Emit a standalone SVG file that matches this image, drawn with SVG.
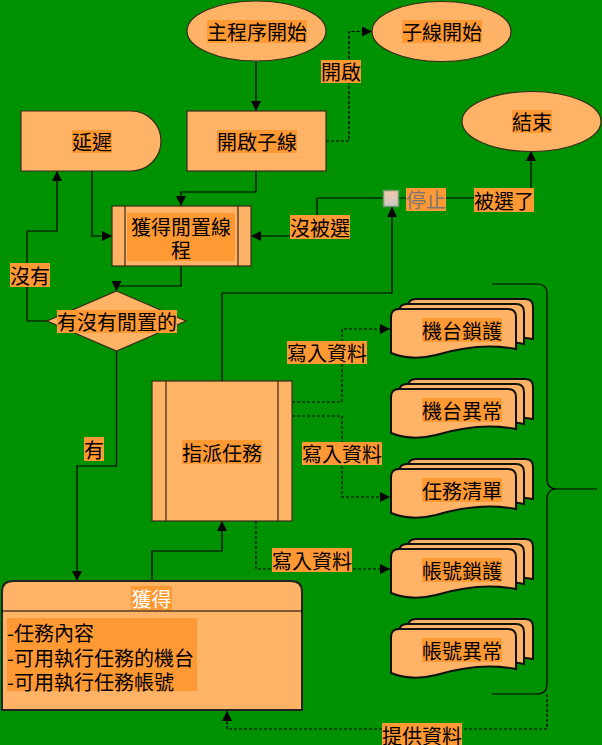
<svg xmlns="http://www.w3.org/2000/svg" width="602" height="745" viewBox="0 0 602 745">
<defs>
<style>
.node{fill:#FFB366;stroke:#3a2a1a;stroke-width:1.2}
.doc{fill:#FFB366;stroke:#111;stroke-width:2}
.lbl{fill:#FF9933}
.t{font-family:"Noto Sans CJK TC","Noto Sans CJK SC",sans-serif;font-size:20px;fill:#000;text-anchor:middle;dominant-baseline:central}
.tl{font-family:"Noto Sans CJK TC","Noto Sans CJK SC",sans-serif;font-size:20px;fill:#000;dominant-baseline:central}
.c{fill:none;stroke:#000;stroke-width:1.2}
.d{fill:none;stroke:#000;stroke-width:1.2;stroke-dasharray:3,2}
</style>
<marker id="ar" viewBox="0 0 10 10" refX="10" refY="5" markerWidth="10" markerHeight="10" markerUnits="userSpaceOnUse" orient="auto">
<path d="M0,0 L10,5 L0,10 Z" fill="#000"/>
</marker>
<linearGradient id="sq" x1="0" y1="0" x2="0" y2="1">
<stop offset="0" stop-color="#F2C9A6"/>
<stop offset="1" stop-color="#C8C8C8"/>
</linearGradient>
<path id="docp" d="M0,8 Q0,0 8,0 H117 Q125,0 125,8 V40 C95,34 65,40 45,46 C25,51 10,48 0,44 Z"/>
<g id="mdoc">
<use href="#docp" class="doc" transform="translate(17,-10)"/>
<use href="#docp" class="doc" transform="translate(8,-5)"/>
<use href="#docp" class="doc"/>
</g>
</defs>
<rect width="602" height="745" fill="#009100"/>

<g id="connectors">
<path class="c" d="M256,61 V111" marker-end="url(#ar)"/>
<path class="d" d="M326,141 H349 V31.5 H372" marker-end="url(#ar)"/>
<path class="c" d="M256,171 V192 H181 V206" marker-end="url(#ar)"/>
<path class="c" d="M92,171 V236 H112" marker-end="url(#ar)"/>
<path class="c" d="M383,198 H317 V236 H251" marker-end="url(#ar)"/>
<path class="c" d="M399,198 H531 V151" marker-end="url(#ar)"/>
<path class="c" d="M181,266 V286 H116.5 V291" marker-end="url(#ar)"/>
<path class="c" d="M47,321 H27 V231 H57 V171" marker-end="url(#ar)"/>
<path class="c" d="M116.5,351 V466 H77 V581" marker-end="url(#ar)"/>
<path class="c" d="M222,381 V293 H392 V207" marker-end="url(#ar)"/>
<path class="c" d="M152,581 V551 H222 V521" marker-end="url(#ar)"/>
<path class="d" d="M292,402 H342 V329 H390" marker-end="url(#ar)"/>
<path class="d" d="M292,416 H342 V497 H390" marker-end="url(#ar)"/>
<path class="d" d="M256,521 V569 H390" marker-end="url(#ar)"/>
<path class="c" d="M492,284 H537 Q547,284 547,294 V479 Q547,489 557,489 Q547,489 547,499 V684 Q547,694 537,694 H492 M557,489 H597"/>
<path class="d" d="M547,694 V729 H227 V711" marker-end="url(#ar)"/>

<rect class="lbl" x="321" y="60" width="40" height="23"/>
<text class="t" x="341" y="71.5">開啟</text>
<rect class="lbl" x="290" y="215" width="60" height="24"/>
<text class="t" x="320" y="227">沒被選</text>
<rect class="lbl" x="406" y="188" width="40" height="23"/>
<text class="t" x="426" y="199.5" style="fill:#777">停止</text>
<rect class="lbl" x="474" y="188" width="60" height="24"/>
<text class="t" x="504" y="200">被選了</text>
<rect class="lbl" x="10" y="263" width="40" height="24"/>
<text class="t" x="30" y="275">沒有</text>
<rect class="lbl" x="84" y="437" width="20" height="24"/>
<text class="t" x="94" y="449">有</text>
<rect class="lbl" x="287" y="341" width="80" height="23"/>
<text class="t" x="327" y="352.5">寫入資料</text>
<rect class="lbl" x="302" y="442" width="80" height="23"/>
<text class="t" x="342" y="453.5">寫入資料</text>
<rect class="lbl" x="272" y="548" width="80" height="24"/>
<text class="t" x="312" y="560">寫入資料</text>
<rect class="lbl" x="382" y="723" width="80" height="24"/>
<text class="t" x="422" y="735">提供資料</text>
</g>

<g id="n-main-start">
<ellipse class="node" cx="256.5" cy="31" rx="69.5" ry="30"/>
<rect class="lbl" x="207" y="20" width="100" height="23"/>
<text class="t" x="257" y="31.5">主程序開始</text>
</g>
<g id="n-sub-start">
<ellipse class="node" cx="441.5" cy="31.5" rx="69.5" ry="30"/>
<rect class="lbl" x="402" y="20" width="80" height="23"/>
<text class="t" x="442" y="31.5">子線開始</text>
</g>
<g id="n-open-sub">
<rect class="node" x="187" y="111" width="139" height="60"/>
<rect class="lbl" x="217" y="130" width="80" height="23"/>
<text class="t" x="257" y="141.5">開啟子線</text>
</g>
<g id="n-delay">
<path class="node" d="M21,111 H131 A30,30 0 0 1 131,171 H21 Z"/>
<rect class="lbl" x="72" y="130" width="40" height="23"/>
<text class="t" x="92" y="141.5">延遲</text>
</g>
<g id="n-end">
<ellipse class="node" cx="531.5" cy="121.5" rx="69.5" ry="30"/>
<rect class="lbl" x="512" y="110" width="40" height="23"/>
<text class="t" x="532" y="121.5">結束</text>
</g>
<g id="n-get-idle">
<rect class="node" x="112" y="206" width="139" height="60"/>
<path class="c" d="M125,206 V266 M238,206 V266" style="stroke:#3a2a1a"/>
<rect class="lbl" x="127" y="213" width="108" height="48"/>
<text class="t" x="181" y="226"><tspan x="181" y="226">獲得閒置線</tspan><tspan x="181" y="249">程</tspan></text>
</g>
<g id="n-stop">
<rect x="383.5" y="190.5" width="15" height="16" fill="url(#sq)" stroke="#6E9A6E" stroke-width="1.5"/>
</g>
<g id="n-decision">
<path class="node" d="M116.5,291 L186,321 L116.5,351 L47,321 Z"/>
<rect class="lbl" x="57" y="310" width="120" height="23"/>
<text class="t" x="117" y="321.5">有沒有閒置的</text>
</g>
<g id="n-assign">
<rect class="node" x="152" y="381" width="140" height="140"/>
<path class="c" d="M166,381 V521 M278,381 V521" style="stroke:#3a2a1a"/>
<rect class="lbl" x="182" y="440" width="80" height="24"/>
<text class="t" x="222" y="452">指派任務</text>
</g>
<g id="n-machine-lock">
<use href="#mdoc" transform="translate(391,309)"/>
<rect class="lbl" x="422" y="318" width="80" height="24"/>
<text class="t" x="462" y="330">機台鎖護</text>
</g>
<g id="n-machine-err">
<use href="#mdoc" transform="translate(391,389)"/>
<rect class="lbl" x="422" y="398" width="80" height="24"/>
<text class="t" x="462" y="410">機台異常</text>
</g>
<g id="n-task-list">
<use href="#mdoc" transform="translate(391,469)"/>
<rect class="lbl" x="422" y="478" width="80" height="24"/>
<text class="t" x="462" y="490">任務清單</text>
</g>
<g id="n-acct-lock">
<use href="#mdoc" transform="translate(391,549)"/>
<rect class="lbl" x="422" y="558" width="80" height="24"/>
<text class="t" x="462" y="570">帳號鎖護</text>
</g>
<g id="n-acct-err">
<use href="#mdoc" transform="translate(391,629)"/>
<rect class="lbl" x="422" y="638" width="80" height="24"/>
<text class="t" x="462" y="650">帳號異常</text>
</g>
<g id="n-obtain">
<path d="M2,710 V592 Q2,581 13,581 H291 Q302,581 302,592 V710 Z" fill="#FFB366" stroke="#222" stroke-width="2"/>
<path d="M2,611 H302" stroke="#000" stroke-width="1.2"/>
<rect class="lbl" x="131" y="586" width="41" height="24"/>
<text class="t" x="151.5" y="598" style="fill:#fff">獲得</text>
<rect class="lbl" x="7" y="618" width="190" height="73"/>
<text class="tl" x="7" y="632"><tspan x="7" y="632">-任務內容</tspan><tspan x="7" y="656.5">-可用執行任務的機台</tspan><tspan x="7" y="681">-可用執行任務帳號</tspan></text>
</g>
</svg>
